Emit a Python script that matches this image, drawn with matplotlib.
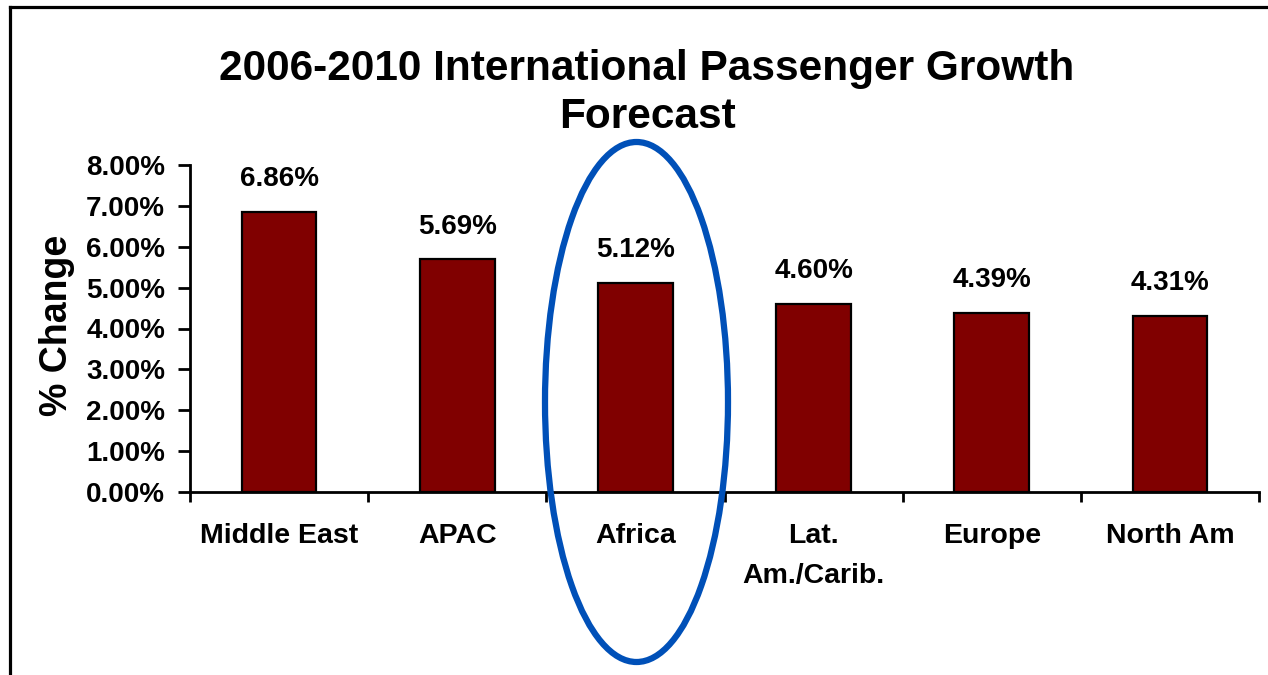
import matplotlib
matplotlib.use("Agg")
import matplotlib.pyplot as plt
from matplotlib.patches import Ellipse
from matplotlib.lines import Line2D
from matplotlib.ticker import FuncFormatter, MultipleLocator

plt.rcParams['font.family'] = ['Liberation Sans', 'DejaVu Sans']
plt.rcParams['font.weight'] = 'bold'

regions = ["Middle East", "APAC", "Africa", "Lat.\nAm./Carib.", "Europe", "North Am"]
growth_pct = [6.86, 5.69, 5.12, 4.60, 4.39, 4.31]
value_labels = ["6.86%", "5.69%", "5.12%", "4.60%", "4.39%", "4.31%"]

W, H = 1268, 675
fig = plt.figure(figsize=(W / 100, H / 100), dpi=100)
ax = fig.add_axes([190 / W, 1 - 492 / H, (1259 - 190) / W, (492 - 165) / H])

x = list(range(len(regions)))
ax.bar(x, growth_pct, width=0.42, color="#800000", edgecolor="black", linewidth=1.6, zorder=2)

for xi, v, lab in zip(x, growth_pct, value_labels):
    ax.annotate(lab, (xi, v), xytext=(0, 18.5), textcoords="offset points",
                ha="center", va="baseline", fontsize=20, fontweight="bold")

ax.set_xlim(-0.5, len(regions) - 0.5)
ax.set_ylim(0, 8)
ax.yaxis.set_major_locator(MultipleLocator(1))
ax.yaxis.set_major_formatter(FuncFormatter(lambda v, p: f"{v:.2f}%"))

# category ticks sit between the bars; labels are centred under them
ax.set_xticks([i + 0.5 for i in range(-1, len(regions))])
ax.set_xticklabels([])
ax.set_xticks(x, minor=True)
ax.set_xticklabels(regions, minor=True, fontsize=20.5, fontweight="bold", linespacing=1.72)
ax.tick_params(axis="x", which="major", direction="out", length=7, width=2)
ax.tick_params(axis="x", which="minor", length=0, pad=22)
ax.tick_params(axis="y", direction="out", length=9, width=2, pad=9, labelsize=20)
for t in ax.get_yticklabels():
    t.set_fontweight("bold")

for side in ("top", "right"):
    ax.spines[side].set_visible(False)
for side in ("left", "bottom"):
    ax.spines[side].set_linewidth(2)

ax.set_ylabel("% Change", fontsize=27, fontweight="bold")
ax.yaxis.set_label_coords(-115 / (1259 - 190), (492 - 325) / (492 - 165))

fig.text(647 / W, 1 - 128 / H, "2006-2010 International Passenger Growth\nForecast",
         ha="center", va="baseline", fontsize=30.5, fontweight="bold", linespacing=1.25,
         multialignment="center")

# highlight around Africa
fig.patches.append(Ellipse((636.5 / W, 1 - 402 / H), 183 / W, 520 / H,
                           transform=fig.transFigure, fill=False,
                           edgecolor="#0050B8", linewidth=4.5))

# frame lines along the left and top edges
fig.lines.append(Line2D([10 / W, 10 / W], [0, 1 - 6.5 / H], transform=fig.transFigure,
                        color="black", linewidth=2.3))
fig.lines.append(Line2D([10 / W, 1], [1 - 6.5 / H, 1 - 6.5 / H], transform=fig.transFigure,
                        color="black", linewidth=2.3))

fig.savefig("out.png", dpi=100)
